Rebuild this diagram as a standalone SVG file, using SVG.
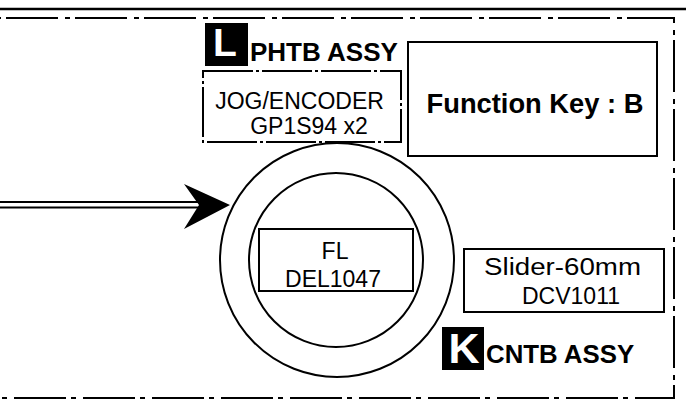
<svg xmlns="http://www.w3.org/2000/svg" width="686" height="408" viewBox="0 0 686 408">
<style>
text{font-family:"Liberation Sans",Arial,Helvetica,sans-serif;fill:#000}
.reg{font-size:23px}
.bold{font-weight:bold}
.box{fill:none;stroke:#000;stroke-width:2}
.badge{fill:#000}
.badgeTxt{fill:#fff;font-weight:bold}
</style>
<rect width="686" height="408" fill="#fff"/>
<g id="frame">
<line x1="0" y1="9" x2="686" y2="9" stroke="#000" stroke-width="2.5"/>
<path d="M0,18 H674 V398 H0" fill="none" stroke="#000" stroke-width="2" stroke-dasharray="52 7 5 5" stroke-dashoffset="63"/>
</g>
<g id="connectors">
<line x1="0" y1="202" x2="202" y2="202" stroke="#000" stroke-width="2"/>
<line x1="0" y1="207.5" x2="202" y2="207.5" stroke="#000" stroke-width="2"/>
<polygon points="230,205 184,184 199,205 184,229" fill="#000"/>
</g>
<g id="phtb-label">
<rect class="badge" x="205" y="23" width="43" height="43"/>
<text class="badgeTxt" x="225" y="56" font-size="39" text-anchor="middle">L</text>
<text class="bold" x="250" y="61" font-size="26">PHTB ASSY</text>
</g>
<g id="jog-encoder">
<rect x="203" y="71" width="198" height="71" fill="none" stroke="#000" stroke-width="2" stroke-dasharray="50 3 3 3"/>
<text class="reg" x="299.5" y="109" text-anchor="middle">JOG/ENCODER</text>
<text class="reg" x="309" y="134" text-anchor="middle" font-size="24">GP1S94 x2</text>
</g>
<g id="function-key">
<rect class="box" x="408" y="42" width="249" height="114"/>
<text class="bold" x="535" y="113" font-size="27.3" text-anchor="middle">Function Key : B</text>
</g>
<g id="fl">
<circle class="box" cx="337" cy="260" r="117"/>
<circle class="box" cx="336" cy="260" r="87"/>
<rect class="box" x="259" y="229" width="154" height="62"/>
<text class="reg" x="335" y="259" text-anchor="middle" font-size="24">FL</text>
<text class="reg" x="333" y="287" text-anchor="middle" font-size="24">DEL1047</text>
</g>
<g id="slider">
<rect class="box" x="464" y="249" width="200" height="63"/>
<text class="reg" x="484" y="275" font-size="26.5" textLength="157" lengthAdjust="spacingAndGlyphs">Slider-60mm</text>
<text class="reg" x="571" y="304" text-anchor="middle">DCV1011</text>
</g>
<g id="cntb-label">
<rect class="badge" x="442" y="327" width="42" height="43"/>
<text class="badgeTxt" x="464" y="363" font-size="43" text-anchor="middle">K</text>
<text class="bold" x="486" y="363" font-size="25.8">CNTB ASSY</text>
</g>
</svg>
